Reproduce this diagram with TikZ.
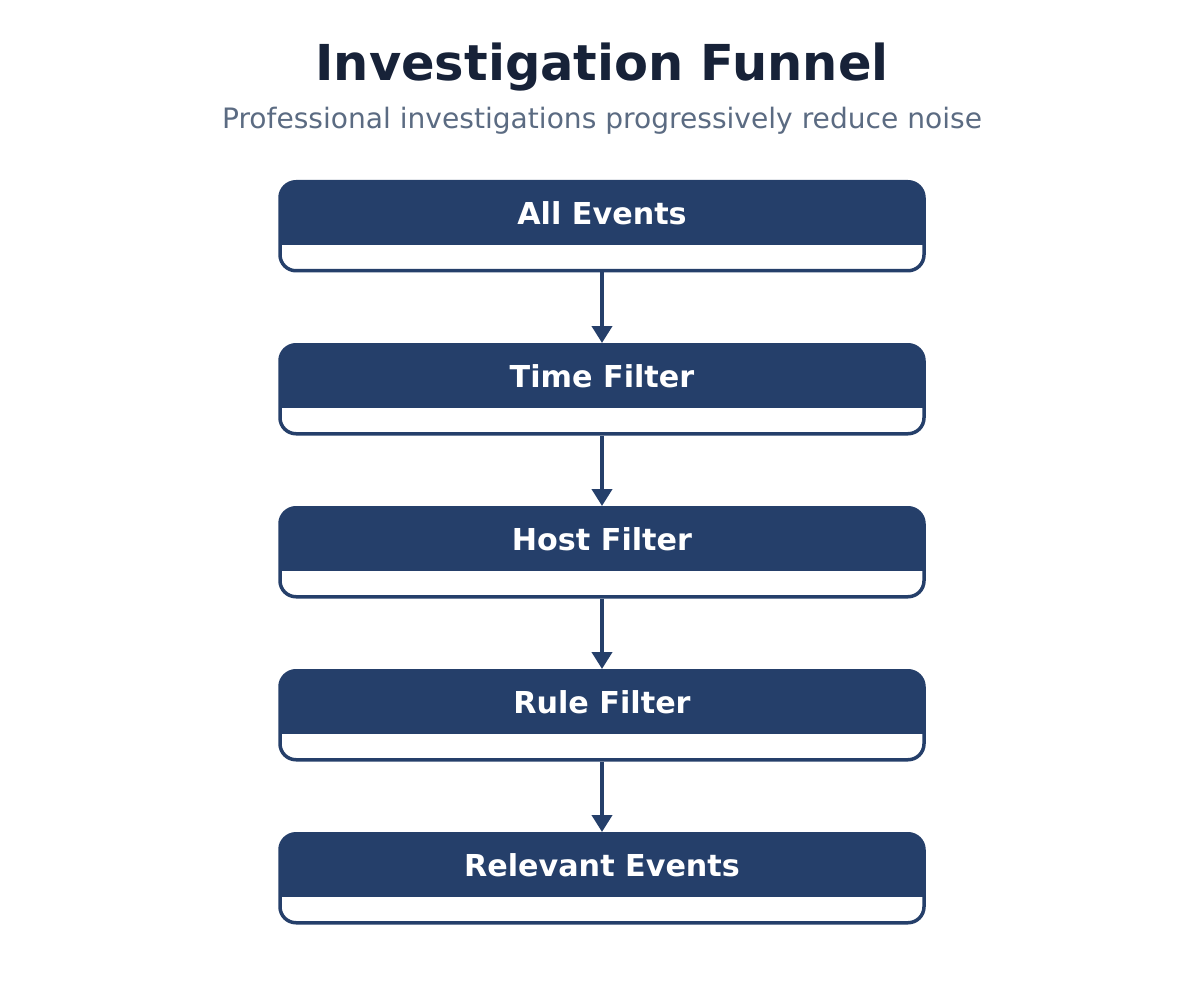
\documentclass[tikz,border=0pt]{standalone}
\usepackage{fontspec}
\setmainfont{DejaVu Sans}
\usetikzlibrary{arrows.meta}
\definecolor{navy}{HTML}{253F6A}
\definecolor{titlecol}{HTML}{172238}
\definecolor{subcol}{HTML}{5B6B82}
\tikzset{
  stagebox/.style={draw=navy, line width=3.5pt, rounded corners=16pt, minimum width=644pt, minimum height=89pt, inner sep=0pt, fill=white,
    path picture={\fill[navy, sharp corners] ([yshift=5pt]path picture bounding box.north west) rectangle ([yshift=-63pt]path picture bounding box.north east);}},
  stagelabel/.style={text=white, font=\bfseries\fontsize{30.2}{35}\selectfont, inner sep=0pt},
  flow/.style={draw=navy, line width=4pt, -{Triangle[width=20pt,length=17pt]}},
}
\begin{document}
\begin{tikzpicture}[x=1pt,y=-1pt]
\useasboundingbox (0,0) rectangle (1204,1008);
\node[font=\bfseries\fontsize{49.5}{58}\selectfont, text=titlecol] (title) at (602,67) {Investigation Funnel};
\node[font=\fontsize{28.1}{33}\selectfont, text=subcol] (subtitle) at (602,121) {Professional investigations progressively reduce noise};
\foreach \i/\top/\lab in {1/181.75/All Events, 2/344.75/Time Filter, 3/507.75/Host Filter, 4/670.75/Rule Filter, 5/833.75/Relevant Events}{
  \node[stagebox] (b\i) at (602,\top+44.5) {};
  \node[stagelabel] (t\i) at (602,\top+31.5) {\lab};
}
\foreach \a/\b in {1/2,2/3,3/4,4/5}{
  \draw[flow] (b\a.south) -- (b\b.north);
}
\end{tikzpicture}
\end{document}
